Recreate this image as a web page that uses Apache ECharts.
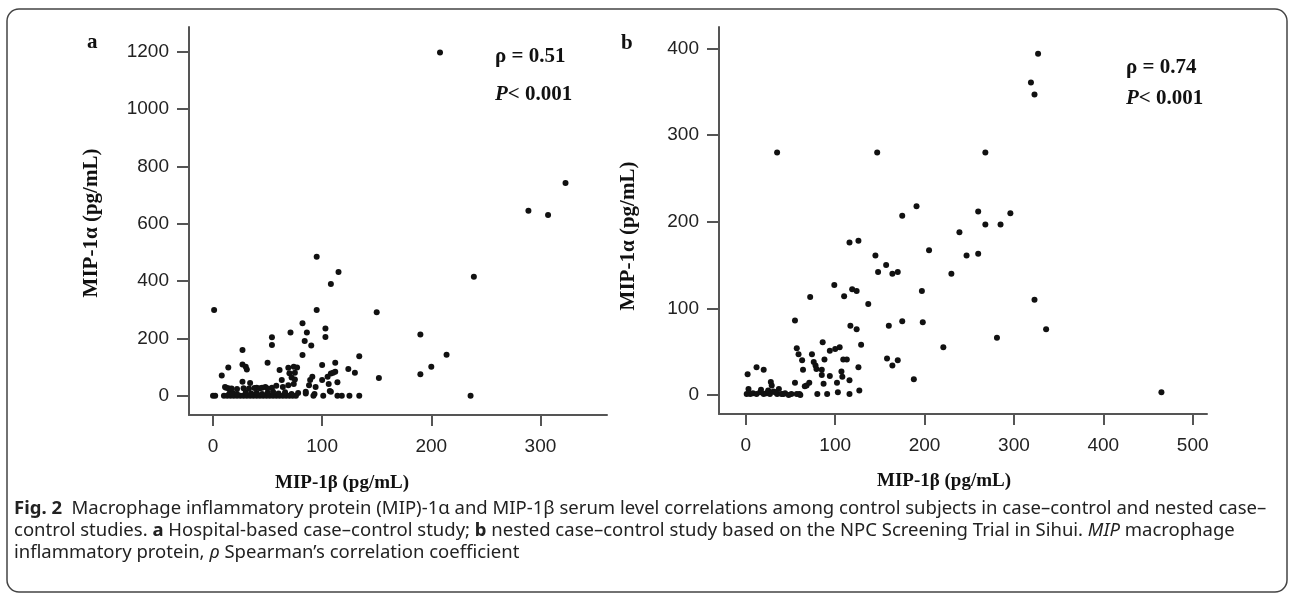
<!DOCTYPE html>
<html><head><meta charset="utf-8">
<script src="https://cdn.jsdelivr.net/npm/echarts@6/dist/echarts.min.js"></script>
<style>html,body{margin:0;padding:0;background:#fff}#c{width:1292px;height:595px}</style>
</head><body><div id="c"></div>
<script>
// Panel a: hospital-based case-control study [MIP-1beta, MIP-1alpha]
const pointsA = [
 [208,1197],[323,742],[289,645],[307,630],[239,415],[95,485],[115,432],[108,390],[1,299],[95,299],[150,291],[190,214],[214,143],[200,101],[190,75],[152,62],[236,0],
 [82,253],[103,235],[103,205],[86,221],[71,221],[84,191],[90,175],[82,142],[54,204],[54,177],[27,160],[50,115],[134,138],
 [8,71],[14,99],[27,109],[30,101],[31,92],[12,28],[27,49],[34,45],[61,90],[69,98],[74,101],[77,99],[70,79],[75,80],[72,64],[75,57],[63,55],[69,37],[74,41],[64,31],[58,35],[54,28],[48,31],[50,25],[45,28],[40,28],[11,31],[14,26],
 [91,66],[89,55],[88,37],[85,14],[94,31],[93,6],[85,8],
 [100,107],[112,115],[100,55],[105,66],[108,78],[112,84],[110,80],[106,41],[114,47],[107,17],[124,93],[130,80],
 [92,0],[101,0],[108,14],[114,0],[118,0],[125,0],[134,0],
 [0,0],[2,0],[10,0],[13,0],[16,0],[19,0],[22,0],[25,0],[28,0],[31,0],[34,0],[37,0],[40,0],[43,0],[46,0],[49,0],[52,0],[55,0],[58,0],[61,0],[64,0],[67,0],[70,0],[73,0],[76,0],
 [15,8],[18,10],[22,6],[30,12],[35,8],[40,10],[45,6],[50,10],[55,14],[60,8],[66,12],[72,6],[78,10],
 [17,25],[22,24],[28,26],[33,25],[38,27],[43,26]
];
// Panel b: nested case-control study (Sihui)
const pointsB = [
 [35,280],[147,280],[268,280],[327,394],[319,361],[323,347],[175,207],[191,218],[260,212],[268,197],[285,197],[296,210],
 [239,188],[205,167],[247,161],[260,163],[230,140],[145,161],[157,150],[148,142],[164,140],[170,142],[197,120],
 [116,176],[126,178],[99,127],[110,114],[119,122],[124,120],[137,105],[72,113],[55,86],[117,80],[124,76],[129,58],
 [160,80],[175,85],[198,84],[221,55],[281,66],[158,42],[164,34],[170,40],[188,18],[323,110],[336,76],[465,3],
 [86,61],[94,51],[100,53],[105,55],[57,54],[59,47],[74,47],[63,40],[76,38],[78,34],[79,30],[88,41],[109,41],[113,41],
 [64,29],[85,29],[85,23],[94,22],[107,27],[108,21],[126,32],[116,17],[55,14],[102,14],[87,13],[68,11],[71,14],[66,10],
 [80,1],[91,1],[103,3],[116,1],[127,5],[2,24],[12,32],[20,29],[28,15],[29,11],[37,7],[42,1],[51,1],[60,1],[3,7],[5,1],
 [1,1],[8,2],[12,1],[16,3],[20,1],[23,2],[27,1],[31,4],[35,1],[40,1],[44,2],[48,0],[57,1],[61,0],[17,6],[25,5],[33,3]
];
const ticksAX = [0,100,200,300];
const ticksAY = [0,200,400,600,800,1000,1200];
const ticksBX = [0,100,200,300,400,500];
const ticksBY = [0,100,200,300,400];
const xTitle = 'MIP-1β (pg/mL)';
const yTitle = 'MIP-1α (pg/mL)';
const rhoA = 'ρ = 0.51', rhoB = 'ρ = 0.74', pText = '< 0.001';
const captionLines = [
 '{b|Fig. 2}  Macrophage inflammatory protein (MIP)-1α and MIP-1β serum level correlations among control subjects in case–control and nested case–',
 'control studies. {b|a} Hospital-based case–control study; {b|b} nested case–control study based on the NPC Screening Trial in Sihui. {i|MIP} macrophage',
 'inflammatory protein, {i|ρ} Spearman’s correlation coefficient'
];

const AX = '#555';
const SANS = 'Liberation Sans';
const SERIF = 'Liberation Serif';
const CAP = 'Noto Sans';
const CAPSIZE = 18.5;
function plain(v) { return String(v); }
function xAxis(gi, min, max, ticks) {
  return {type:'value', gridIndex:gi, min:min, max:max, splitLine:{show:false},
    axisLine:{show:true, onZero:false, lineStyle:{color:AX, width:2}},
    axisTick:{show:true, customValues:ticks, length:11, lineStyle:{color:AX, width:2}},
    axisLabel:{customValues:ticks, formatter:plain, margin:22, fontSize:19, color:'#222', fontFamily:SANS}};
}
function yAxis(gi, min, max, ticks) {
  return {type:'value', gridIndex:gi, min:min, max:max, splitLine:{show:false},
    axisLine:{show:true, onZero:false, lineStyle:{color:AX, width:2}},
    axisTick:{show:true, customValues:ticks, length:12, lineStyle:{color:AX, width:2}},
    axisLabel:{customValues:ticks, formatter:plain, margin:20, fontSize:19, color:'#222', fontFamily:SANS}};
}
const serifBold = {fontFamily:SERIF, fontWeight:'bold', fill:'#111'};
function t(x, y, text, size, extra) {
  return Object.assign({type:'text', x:x, y:y, style:Object.assign({text:text, fontSize:size, align:'left', verticalAlign:'middle'}, serifBold)}, extra||{});
}
function pLine(x, y) {
  return {type:'text', x:x, y:y, style:{text:'{i|P}{n|' + pText + '}', verticalAlign:'middle', align:'left',
    fontFamily:SERIF, fontWeight:'bold', fontSize:21, fill:'#111',
    rich:{i:{fontFamily:SERIF, fontWeight:'bold', fontStyle:'italic', fontSize:21, fill:'#111'},
          n:{fontFamily:SERIF, fontWeight:'bold', fontSize:21, fill:'#111'}}}};
}
const capRich = {
  b:{fontFamily:CAP, fontWeight:'bold', fontSize:CAPSIZE, fill:'#222'},
  i:{fontFamily:CAP, fontStyle:'italic', fontSize:CAPSIZE, fill:'#222'}
};
const graphics = [
  {type:'rect', shape:{x:7, y:9, width:1280, height:583, r:12}, style:{fill:'none', stroke:'#444', lineWidth:1.5}},
  t(87, 43, 'a', 21),
  t(621, 44, 'b', 21),
  t(495, 57, rhoA, 21),
  pLine(495, 95),
  t(1126, 68, rhoB, 21),
  pLine(1126, 99),
  {type:'text', x:342, y:483, style:Object.assign({text:xTitle, fontSize:19, align:'center', verticalAlign:'middle'}, serifBold)},
  {type:'text', x:944, y:481, style:Object.assign({text:xTitle, fontSize:19, align:'center', verticalAlign:'middle'}, serifBold)},
  {type:'text', x:92, y:223, rotation:Math.PI/2, style:Object.assign({text:yTitle, fontSize:21, align:'center', verticalAlign:'middle'}, serifBold)},
  {type:'text', x:629, y:236, rotation:Math.PI/2, style:Object.assign({text:yTitle, fontSize:21, align:'center', verticalAlign:'middle'}, serifBold)}
];
captionLines.forEach(function(line, k){
  graphics.push({type:'text', x:14, y:509 + k*22, style:{text:line, fontFamily:CAP, fontSize:CAPSIZE, fill:'#222',
    align:'left', verticalAlign:'middle', rich:capRich}});
});

const chart = echarts.init(document.getElementById('c'), null, {renderer:'canvas'});
chart.setOption({
  animation:false,
  backgroundColor:'#fff',
  grid:[
    {left:189, top:27, width:418, height:388},
    {left:719, top:27, width:488, height:387}
  ],
  xAxis:[xAxis(0, -22, 361, ticksAX), xAxis(1, -30, 516, ticksBX)],
  yAxis:[yAxis(0, -67, 1286, ticksAY), yAxis(1, -22, 425, ticksBY)],
  series:[
    {type:'scatter', xAxisIndex:0, yAxisIndex:0, data:pointsA, symbolSize:6, itemStyle:{color:'#111', opacity:1}},
    {type:'scatter', xAxisIndex:1, yAxisIndex:1, data:pointsB, symbolSize:6, itemStyle:{color:'#111', opacity:1}}
  ],
  graphic:graphics
});
</script>
</body></html>
